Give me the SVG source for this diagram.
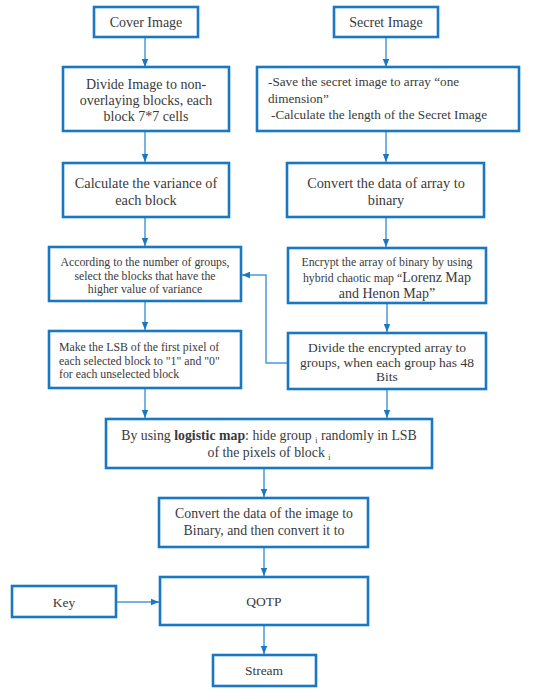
<svg xmlns="http://www.w3.org/2000/svg" width="534" height="690" viewBox="0 0 534 690">
<style>
.box{fill:#fff;stroke:#1a78c2;stroke-width:2.6}
.t{font-family:"Liberation Serif","DejaVu Serif",serif;fill:#3a3a3a}
.c{text-anchor:middle}
.con{fill:none;stroke:#4a9ad8;stroke-width:1.5}
</style>
<defs>
<marker id="ah" markerUnits="userSpaceOnUse" markerWidth="8" markerHeight="8" viewBox="0 0 8 8" refX="8" refY="4" orient="auto">
<path d="M0,0.8 L8,4 L0,7.2 Z" fill="#1a78c2"/>
</marker>
</defs>
<rect width="534" height="690" fill="#fff"/>
<g id="connectors">
<path class="con" d="M145,37 V67" marker-end="url(#ah)"/>
<path class="con" d="M386,37 V67" marker-end="url(#ah)"/>
<path class="con" d="M145,131 V162" marker-end="url(#ah)"/>
<path class="con" d="M386,131 V162" marker-end="url(#ah)"/>
<path class="con" d="M145,217 V246" marker-end="url(#ah)"/>
<path class="con" d="M386,217 V247" marker-end="url(#ah)"/>
<path class="con" d="M145,301 V330" marker-end="url(#ah)"/>
<path class="con" d="M387,303 V332" marker-end="url(#ah)"/>
<path class="con" d="M288,363 H266 V275 H242" marker-end="url(#ah)"/>
<path class="con" d="M145,388 V418" marker-end="url(#ah)"/>
<path class="con" d="M387,389 V418" marker-end="url(#ah)"/>
<path class="con" d="M264,468 V497" marker-end="url(#ah)"/>
<path class="con" d="M264,547 V576" marker-end="url(#ah)"/>
<path class="con" d="M116,602 H159" marker-end="url(#ah)"/>
<path class="con" d="M264,625 V654" marker-end="url(#ah)"/>
</g>
<g id="cover">
<rect class="box" x="94" y="7" width="104" height="30"/>
<text class="t c" x="146" y="27" font-size="14">Cover Image</text>
</g>
<g id="secret">
<rect class="box" x="334" y="7" width="104" height="30"/>
<text class="t c" x="386" y="27" font-size="14">Secret Image</text>
</g>
<g id="divide">
<rect class="box" x="63" y="67" width="166" height="64"/>
<text class="t c" x="146" y="89" font-size="14"><tspan x="146">Divide Image to non-</tspan><tspan x="146" dy="16">overlaying blocks, each</tspan><tspan x="146" dy="16">block 7*7 cells</tspan></text>
</g>
<g id="save">
<rect class="box" x="257" y="67" width="262" height="64"/>
<text class="t" x="268" y="86" font-size="13.2"><tspan x="268">-Save the secret image to array “one</tspan><tspan x="268" dy="16.5">dimension”</tspan><tspan x="271" dy="16.5">-Calculate the length of the Secret Image</tspan></text>
</g>
<g id="variance">
<rect class="box" x="63" y="163" width="166" height="54"/>
<text class="t c" x="146" y="188" font-size="14.3"><tspan x="146">Calculate the variance of</tspan><tspan x="146" dy="17">each block</tspan></text>
</g>
<g id="convert">
<rect class="box" x="287" y="163" width="197" height="54"/>
<text class="t c" x="386" y="188" font-size="14.3"><tspan x="386">Convert the data of array to</tspan><tspan x="386" dy="17">binary</tspan></text>
</g>
<g id="select">
<rect class="box" x="49" y="247" width="192" height="54"/>
<text class="t c" x="145" y="266" font-size="11.8"><tspan x="145">According to the number of groups,</tspan><tspan x="145" dy="13.5">select the blocks that have the</tspan><tspan x="145" dy="13.5">higher value of variance</tspan></text>
</g>
<g id="encrypt">
<rect class="box" x="288" y="248" width="198" height="55"/>
<text class="t c" x="387" y="266" font-size="11.8"><tspan x="387">Encrypt the array  of binary by using</tspan><tspan x="387" dy="15.5">hybrid chaotic map “<tspan font-size="14">Lorenz Map</tspan></tspan><tspan x="387" dy="16" font-size="14">and Henon Map”</tspan></text>
</g>
<g id="lsb">
<rect class="box" x="49" y="331" width="192" height="57"/>
<text class="t" x="59" y="351" font-size="11.8"><tspan x="59">Make the LSB of the first pixel of</tspan><tspan x="59" dy="13.5">each selected block to "1" and "0"</tspan><tspan x="59" dy="13.5">for each unselected block</tspan></text>
</g>
<g id="groups">
<rect class="box" x="288" y="333" width="198" height="56"/>
<text class="t c" x="387" y="352" font-size="13.5"><tspan x="387">Divide the encrypted array to</tspan><tspan x="387" dy="14.5">groups, when each group has 48</tspan><tspan x="387" dy="14.5">Bits</tspan></text>
</g>
<g id="logistic">
<rect class="box" x="106" y="419" width="326" height="49"/>
<text class="t c" x="269" y="440" font-size="13.8"><tspan x="269">By using <tspan font-weight="bold">logistic map</tspan>: hide group <tspan font-size="8" dy="3">i</tspan><tspan dy="-3"> randomly in LSB</tspan></tspan><tspan x="269" dy="17">of the pixels of block <tspan font-size="8" dy="3">i</tspan></tspan></text>
</g>
<g id="convertimg">
<rect class="box" x="159" y="498" width="209" height="49"/>
<text class="t c" x="264" y="518" font-size="13.8"><tspan x="264">Convert the data of the image to</tspan><tspan x="264" dy="16.5">Binary, and then convert it to</tspan></text>
</g>
<g id="key">
<rect class="box" x="12" y="586" width="104" height="31"/>
<text class="t c" x="64" y="607" font-size="13.5">Key</text>
</g>
<g id="qotp">
<rect class="box" x="160" y="577" width="208" height="48"/>
<text class="t c" x="264" y="606" font-size="13.5">QOTP</text>
</g>
<g id="stream">
<rect class="box" x="213" y="655" width="103" height="31"/>
<text class="t c" x="264" y="675" font-size="13.5">Stream</text>
</g>
</svg>
